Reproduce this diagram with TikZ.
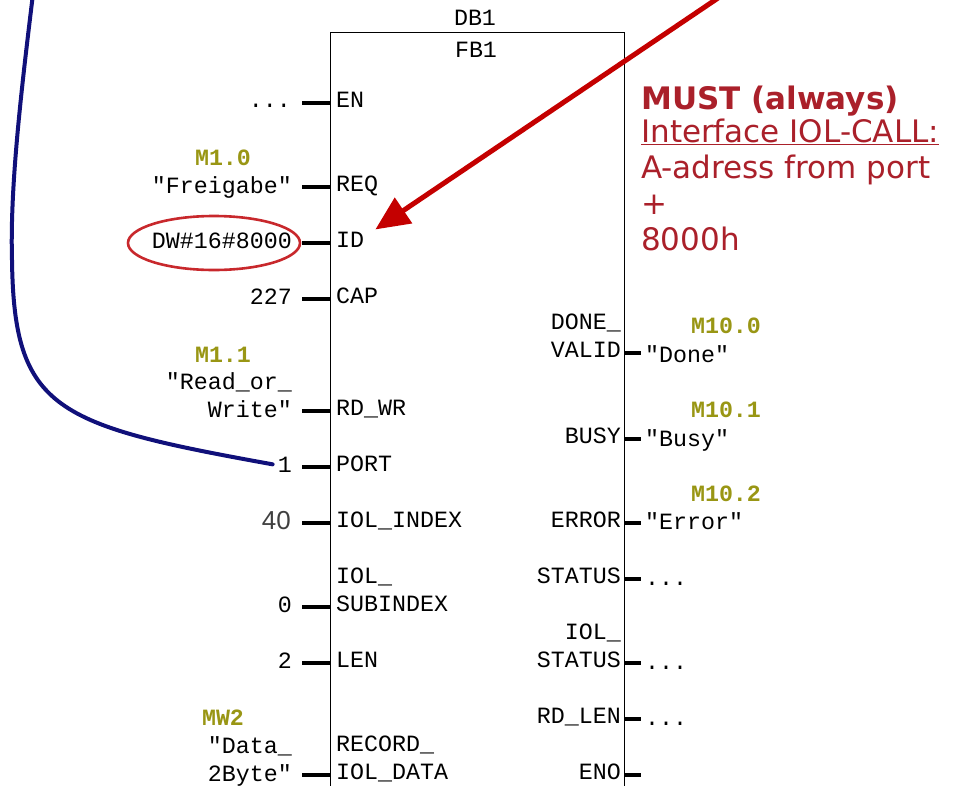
\documentclass[tikz,border=0pt]{standalone}
\usepackage{fontspec}
\setmonofont{Liberation Mono}
\newfontfamily\notefont{DejaVu Sans}
\newfontfamily\numfont{Liberation Sans}
\usepackage{xcolor}
\usetikzlibrary{positioning,arrows.meta,shapes.geometric}
\definecolor{addrOlive}{RGB}{153,150,20}
\definecolor{noteRed}{RGB}{170,32,42}
\definecolor{ringRed}{RGB}{200,40,44}
\definecolor{arrowRed}{RGB}{196,0,0}
\definecolor{portBlue}{RGB}{16,16,122}
\newcommand{\stubL}[1]{\draw[stub] ([xshift=-6pt,yshift=4pt]#1.base west) -- ++(-28,0);}
\newcommand{\stubR}[1]{\draw[stubr] ([xshift=4pt,yshift=4pt]#1.base east) -- ++(16,0);}

\begin{document}
\begin{tikzpicture}[
  x=1pt, y=-1pt,
  font=\ttfamily\fontsize{23.3}{28}\selectfont,
  fbbox/.style={draw, line width=1.4pt, minimum width=294pt, minimum height=800pt, anchor=north west, inner sep=0pt},
  pinin/.style={anchor=base west, inner sep=0pt, align=left},
  pinout/.style={anchor=base east, inner sep=0pt, align=right},
  val/.style={anchor=base east, inner sep=0pt, align=right},
  res/.style={anchor=base west, inner sep=0pt},
  addr/.style={anchor=base, inner sep=0pt, text=addrOlive, font=\ttfamily\bfseries\fontsize{23.3}{28}\selectfont},
  stub/.style={line width=4pt},
  stubr/.style={line width=3.2pt},
  ring/.style={draw=ringRed, line width=2.6pt, ellipse, minimum width=172pt, minimum height=54pt},
  must/.style={-{Triangle[length=34pt,width=30pt]}, line width=5pt, arrowRed},
  portcurve/.style={portBlue, line width=4pt, line cap=round},
  note/.style={anchor=base west, inner sep=0pt, align=left, text=noteRed, font=\notefont\fontsize{31}{36}\selectfont}
]
\useasboundingbox (0,0) rectangle (969,785);
% Function block
\node[fbbox] (fb) at (330,32) {};
\node[anchor=base, inner sep=0pt] (db) at (475,25) {DB1};
\node[anchor=base, inner sep=0pt] (fbname) at (476,57) {FB1};
% Inputs
\node[pinin] (en)     at (336,107) {EN};
\node[pinin] (req)    at (336,191) {REQ};
\node[pinin] (id)     at (336,247) {ID};
\node[pinin] (cap)    at (336,303) {CAP};
\node[pinin] (rdwr)   at (336,415) {RD\_WR};
\node[pinin] (port)   at (336,471) {PORT};
\node[pinin] (iolidx) at (336,527) {IOL\_INDEX};
\node[pinin] (subidx) at (336,611) {IOL\_\\SUBINDEX};
\node[pinin] (len)    at (336,667) {LEN};
\node[pinin] (record) at (336,779) {RECORD\_\\IOL\_DATA};
\stubL{en} \stubL{req} \stubL{id} \stubL{cap} \stubL{rdwr} \stubL{port} \stubL{iolidx}
\stubL{subidx} \stubL{len} \stubL{record}
% Outputs
\node[pinout] (done)      at (621,357) {DONE\_\\VALID};
\node[pinout] (busy)      at (621,443) {BUSY};
\node[pinout] (error)     at (621,527) {ERROR};
\node[pinout] (status)    at (621,583) {STATUS};
\node[pinout] (iolstatus) at (621,667) {IOL\_\\STATUS};
\node[pinout] (rdlen)     at (621,723) {RD\_LEN};
\node[pinout] (eno)       at (621,779) {ENO};
\stubR{done} \stubR{busy} \stubR{error} \stubR{status} \stubR{iolstatus} \stubR{rdlen} \stubR{eno}
% Actual parameters
\node[val] (enval)   at (291,107) {...};
\node[addr] (reqaddr) at (223,165) {M1.0};
\node[val] (reqval)  at (292,193) {"Freigabe"};
\node[val] (idval)   at (292,248) {DW\#16\#8000};
\node[ring] (idring) at (214,243) {};
\node[val] (capval)  at (292,304) {227};
\node[addr] (rdwraddr) at (223,362) {M1.1};
\node[val] (rdwrval) at (292,417) {"Read\_or\_\\Write"};
\node[val] (portval) at (292,472) {1};
\node[val, font=\numfont\fontsize{26}{28}\selectfont, text=black!75] (idxval) at (291,529) {40};
\node[val] (subval)  at (292,612) {0};
\node[val] (lenval)  at (292,668) {2};
\node[addr] (dataaddr) at (223,725) {MW2};
\node[val] (dataval) at (292,781) {"Data\_\\2Byte"};
% Results
\node[addr] (doneaddr)  at (726,333) {M10.0};
\node[res]  (doneval)   at (645,362) {"Done"};
\node[addr] (busyaddr)  at (726,417) {M10.1};
\node[res]  (busyval)   at (645,446) {"Busy"};
\node[addr] (erroraddr) at (726,501) {M10.2};
\node[res]  (errorval)  at (645,529) {"Error"};
\node[res]  (statusval) at (645,585) {...};
\node[res]  (iolstatusval) at (645,669) {...};
\node[res]  (rdlenval)  at (645,725) {...};
% Note and markers
\node[note] (mustnote) at (641,250) {\textbf{MUST (always)}\\[-3pt]\underline{Interface IOL-CALL:}\\A-adress from port\\+\\8000h};
\coordinate (mustfrom) at (724,-6);
\draw[must] (mustfrom) -- ([xshift=11pt,yshift=2pt]id.north east);
\coordinate (portfrom) at (33,-6);
\draw[portcurve] (portfrom) .. controls (20,100) and (10,190) .. (12,260)
  .. controls (14,410) and (55,425) .. ([xshift=-5pt]portval.west);
\end{tikzpicture}
\end{document}
